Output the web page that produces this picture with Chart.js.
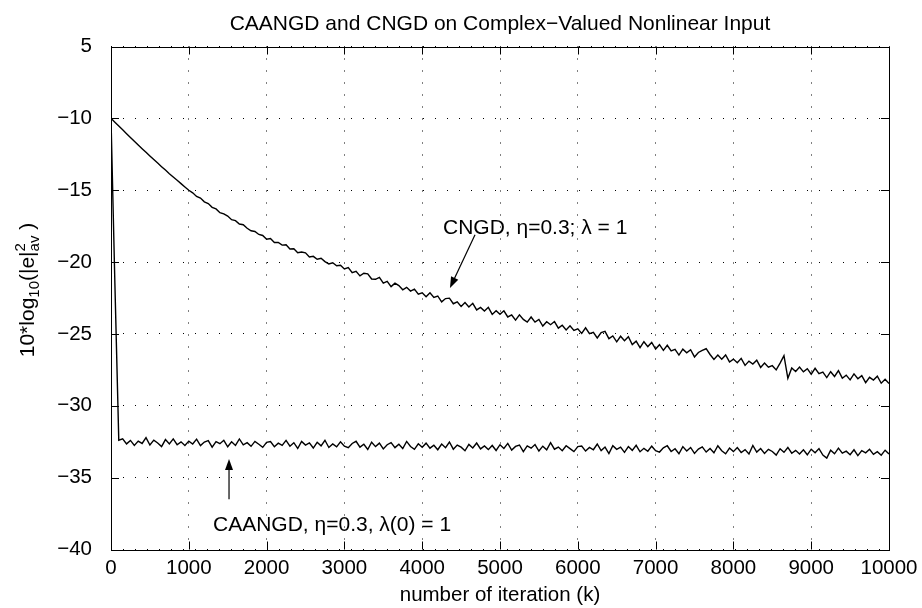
<!DOCTYPE html>
<html><head><meta charset="utf-8">
<script src="https://cdn.jsdelivr.net/npm/chart.js@4.4.1/dist/chart.umd.min.js"></script>
<style>html,body{margin:0;padding:0;background:#fff}#wrap{width:922px;height:608px}</style>
</head><body><div id="wrap"><canvas id="c" width="922" height="608"></canvas></div>
<script>
const iterations = [0,50,100,150,200,250,300,350,400,450,500,550,600,650,700,750,800,850,900,950,
1000,1050,1100,1150,1200,1250,1300,1350,1400,1450,1500,1550,1600,1650,1700,1750,1800,1850,1900,1950,
2000,2050,2100,2150,2200,2250,2300,2350,2400,2450,2500,2550,2600,2650,2700,2750,2800,2850,2900,2950,
3000,3050,3100,3150,3200,3250,3300,3350,3400,3450,3500,3550,3600,3650,3700,3750,3800,3850,3900,3950,
4000,4050,4100,4150,4200,4250,4300,4350,4400,4450,4500,4550,4600,4650,4700,4750,4800,4850,4900,4950,
5000,5050,5100,5150,5200,5250,5300,5350,5400,5450,5500,5550,5600,5650,5700,5750,5800,5850,5900,5950,
6000,6050,6100,6150,6200,6250,6300,6350,6400,6450,6500,6550,6600,6650,6700,6750,6800,6850,6900,6950,
7000,7050,7100,7150,7200,7250,7300,7350,7400,7450,7500,7550,7600,7650,7700,7750,7800,7850,7900,7950,
8000,8050,8100,8150,8200,8250,8300,8350,8400,8450,8500,8550,8600,8650,8700,8750,8800,8850,8900,8950,
9000,9050,9100,9150,9200,9250,9300,9350,9400,9450,9500,9550,9600,9650,9700,9750,9800,9850,9900,9950,
10000];

const cngd = [-10.00,-10.27,-10.54,-10.80,-11.07,-11.33,-11.59,-11.85,-12.11,-12.36,-12.62,-12.87,-13.11,-13.36,-13.60,-13.85,-14.08,-14.31,-14.54,-14.77,
-15.00,-15.18,-15.43,-15.55,-15.81,-15.93,-16.19,-16.30,-16.56,-16.65,-16.80,-17.05,-17.12,-17.35,-17.40,-17.65,-17.82,-17.87,-18.08,-18.15,
-18.41,-18.36,-18.64,-18.64,-18.82,-18.80,-19.09,-19.07,-19.35,-19.30,-19.36,-19.64,-19.60,-19.80,-19.74,-19.97,-20.13,-20.05,-20.26,-20.22,
-20.48,-20.38,-20.74,-20.64,-20.96,-20.78,-20.82,-21.18,-21.20,-21.06,-21.47,-21.34,-21.71,-21.47,-21.64,-21.93,-21.76,-22.02,-21.88,-22.23,
-22.14,-22.42,-22.14,-22.46,-22.36,-22.77,-22.54,-22.51,-22.90,-22.77,-23.09,-22.81,-23.12,-22.87,-23.33,-23.16,-23.41,-23.15,-23.64,-23.38,
-23.63,-23.39,-23.82,-23.68,-24.04,-23.67,-23.99,-24.18,-23.82,-24.18,-23.99,-24.45,-24.15,-24.36,-24.14,-24.60,-24.40,-24.73,-24.44,-24.76,
-24.65,-24.96,-24.57,-24.98,-24.89,-25.28,-24.91,-24.82,-25.33,-25.14,-25.55,-25.16,-25.47,-25.20,-25.74,-25.50,-25.96,-25.54,-25.88,-25.59,
-26.05,-25.75,-26.14,-25.79,-26.18,-26.07,-26.47,-26.06,-26.31,-26.10,-26.60,-26.29,-26.14,-26.03,-26.43,-26.77,-26.47,-26.76,-26.46,-26.95,
-26.75,-27.00,-26.70,-27.19,-26.89,-27.09,-26.83,-27.33,-27.02,-27.32,-27.21,-27.50,-27.03,-26.51,-28.09,-27.37,-27.61,-27.30,-27.64,-27.42,
-27.80,-27.39,-27.77,-27.66,-28.04,-27.63,-27.96,-27.55,-28.08,-27.87,-28.20,-27.78,-28.12,-27.90,-28.39,-28.02,-28.21,-27.94,-28.43,-28.16,
-28.45];

const caangd = [-10.00,-21.50,-32.40,-32.30,-32.65,-32.41,-32.76,-32.46,-32.62,-32.22,-32.73,-32.39,-32.59,-32.84,-32.35,-32.65,-32.30,-32.71,-32.51,-32.76,
-32.46,-32.66,-32.32,-32.77,-32.52,-32.43,-32.88,-32.49,-32.64,-32.40,-32.85,-32.50,-32.76,-32.31,-32.72,-32.57,-32.82,-32.48,-32.68,-32.89,
-32.54,-32.49,-32.85,-32.60,-32.76,-32.41,-32.81,-32.57,-32.97,-32.48,-32.73,-32.58,-32.94,-32.54,-32.79,-32.40,-32.90,-32.65,-32.86,-32.51,
-32.81,-32.92,-32.62,-32.47,-32.88,-32.68,-33.04,-32.54,-32.84,-32.60,-33.00,-32.71,-32.56,-32.91,-32.67,-32.97,-32.48,-32.83,-33.03,-32.64,
-32.89,-32.60,-32.95,-32.75,-33.06,-32.66,-32.92,-32.52,-33.02,-32.73,-32.88,-33.13,-32.69,-32.94,-32.59,-33.00,-32.80,-33.05,-32.76,-33.11,
-32.71,-32.97,-32.62,-33.08,-32.83,-32.73,-33.19,-32.79,-32.95,-32.70,-33.15,-32.81,-33.06,-32.56,-33.02,-32.87,-33.13,-32.78,-32.98,-33.19,
-32.84,-32.80,-33.15,-32.90,-33.06,-32.66,-33.12,-32.87,-33.32,-32.78,-33.03,-32.88,-33.24,-32.84,-33.10,-32.75,-33.20,-32.96,-33.16,-32.81,
-33.12,-33.22,-32.93,-32.78,-33.18,-32.99,-33.34,-32.84,-33.15,-32.90,-33.31,-33.01,-32.86,-33.22,-32.97,-33.27,-32.78,-33.13,-33.34,-32.94,
-33.19,-32.90,-33.25,-33.05,-33.36,-32.76,-33.22,-32.97,-33.32,-33.03,-33.18,-33.43,-32.99,-33.24,-32.90,-33.30,-33.10,-33.36,-33.06,-33.41,
-33.02,-33.27,-32.98,-33.43,-33.64,-33.09,-33.34,-32.95,-33.30,-33.16,-33.41,-33.06,-33.47,-33.12,-33.27,-33.03,-33.38,-33.19,-33.44,-33.09,
-33.35];

const xTickValues = [0,1000,2000,3000,4000,5000,6000,7000,8000,9000,10000];
const xTickLabels = ['0','1000','2000','3000','4000','5000','6000','7000','8000','9000','10000'];
const yTickValues = [-40,-35,-30,-25,-20,-15,-10,-5];
const yTickLabels = ['\u221240','\u221235','\u221230','\u221225','\u221220','\u221215','\u221210','5'];

const titleText = 'CAANGD and CNGD on Complex\u2212Valued Nonlinear Input';
const xTitleText = 'number of iteration (k)';
const cngdLabel = 'CNGD, \u03b7=0.3; \u03bb = 1';
const caangdLabel = 'CAANGD, \u03b7=0.3, \u03bb(0) = 1';

const FONT = "'Liberation Sans', Arial, Helvetica, sans-serif";

const decor = {
  id: 'decor',
  afterDraw(chart) {
    const ctx = chart.ctx, a = chart.chartArea;
    const xs = chart.scales.x, ys = chart.scales.y;
    ctx.save();
    ctx.strokeStyle = '#000';
    ctx.lineWidth = 1;
    ctx.strokeRect(Math.round(a.left)+0.5, Math.round(a.top)+0.5, Math.round(a.right-a.left), Math.round(a.bottom-a.top));
    const tl = 8;
    ctx.beginPath();
    xTickValues.forEach(v => {
      const px = Math.round(xs.getPixelForValue(v)) + 0.5;
      ctx.moveTo(px, a.bottom); ctx.lineTo(px, a.bottom - tl);
      ctx.moveTo(px, a.top); ctx.lineTo(px, a.top + tl);
    });
    yTickValues.forEach(v => {
      const py = Math.round(ys.getPixelForValue(v)) + 0.5;
      ctx.moveTo(a.left, py); ctx.lineTo(a.left + tl, py);
      ctx.moveTo(a.right, py); ctx.lineTo(a.right - tl, py);
    });
    ctx.stroke();

    ctx.fillStyle = '#000';
    ctx.font = '21px ' + FONT;
    ctx.textBaseline = 'middle';
    ctx.textAlign = 'left';
    ctx.fillText(cngdLabel, xs.getPixelForValue(4267), ys.getPixelForValue(-17.63));
    ctx.fillText(caangdLabel, xs.getPixelForValue(1311), ys.getPixelForValue(-38.3));

    function arrow(x1, y1, x2, y2) {
      const X1 = xs.getPixelForValue(x1), Y1 = ys.getPixelForValue(y1);
      const X2 = xs.getPixelForValue(x2), Y2 = ys.getPixelForValue(y2);
      const ang = Math.atan2(Y2 - Y1, X2 - X1);
      const hl = 11, hw = 4;
      ctx.beginPath();
      ctx.lineWidth = 1.2;
      ctx.moveTo(X1, Y1);
      ctx.lineTo(X2 - Math.cos(ang) * hl * 0.8, Y2 - Math.sin(ang) * hl * 0.8);
      ctx.stroke();
      ctx.beginPath();
      ctx.moveTo(X2, Y2);
      ctx.lineTo(X2 - Math.cos(ang) * hl - Math.sin(ang) * hw, Y2 - Math.sin(ang) * hl + Math.cos(ang) * hw);
      ctx.lineTo(X2 - Math.cos(ang) * hl + Math.sin(ang) * hw, Y2 - Math.sin(ang) * hl - Math.cos(ang) * hw);
      ctx.closePath();
      ctx.fill();
    }
    arrow(4679, -18.1, 4357, -21.8);
    arrow(1517, -36.5, 1517, -33.7);

    ctx.translate(34, 290);
    ctx.rotate(-Math.PI / 2);
    ctx.textBaseline = 'alphabetic';
    const big = '21px ' + FONT, small = '15px ' + FONT;
    const parts = [
      {t: '10*log', f: big, dy: 0},
      {t: '10', f: small, dy: 5},
      {t: '(|e|', f: big, dy: 0},
      {t: '2', f: small, dy: -9, stack: true},
      {t: 'av', f: small, dy: 5},
      {t: ' )', f: big, dy: 0}
    ];
    let total = 0;
    parts.forEach(p => { ctx.font = p.f; p.w = ctx.measureText(p.t).width; if (!p.stack) total += p.w; });
    let x = -total / 2;
    parts.forEach(p => {
      ctx.font = p.f;
      ctx.fillText(p.t, x, p.dy);
      if (!p.stack) x += p.w;
    });
    ctx.restore();
  }
};

const chart = new Chart(document.getElementById('c'), {
  type: 'line',
  data: {
    datasets: [
      { label: 'CNGD', data: iterations.map((k, i) => ({x: k, y: cngd[i]})),
        borderColor: '#000', borderWidth: 1.4, pointRadius: 0, tension: 0 },
      { label: 'CAANGD', data: iterations.map((k, i) => ({x: k, y: caangd[i]})),
        borderColor: '#000', borderWidth: 1.4, pointRadius: 0, tension: 0 }
    ]
  },
  options: {
    responsive: false,
    animation: false,
    layout: { padding: { left: 0, right: 33, top: 0, bottom: 0 } },
    plugins: {
      legend: { display: false },
      tooltip: { enabled: false },
      title: { display: true, fullSize: false, text: titleText, color: '#000',
        font: { family: FONT, size: 21, weight: 'normal', lineHeight: 1.2 },
        padding: { top: 12, bottom: 9.3 } }
    },
    scales: {
      x: {
        type: 'linear', min: 0, max: 10000,
        afterBuildTicks: s => { s.ticks = xTickValues.map(v => ({value: v})); },
        ticks: { color: '#000', font: { family: FONT, size: 20.5 }, padding: 7, maxRotation: 0, autoSkip: false,
          callback: (v, i) => xTickLabels[i] },
        grid: { color: '#000', lineWidth: 1, drawTicks: false },
        border: { display: false, dash: [1, 11] },
        title: { display: true, text: xTitleText, color: '#000', font: { family: FONT, size: 20.5 }, padding: { top: 0, bottom: 0 } },
        afterFit: s => { s.height = 58.5; s.paddingLeft = 0; s.paddingRight = 0; }
      },
      y: {
        type: 'linear', min: -40, max: -5,
        afterBuildTicks: s => { s.ticks = yTickValues.map(v => ({value: v})); },
        ticks: { color: '#000', font: { family: FONT, size: 20.5 }, padding: 19, autoSkip: false,
          callback: (v) => { const i = yTickValues.indexOf(v); return i >= 0 ? yTickLabels[i] : ''; } },
        grid: { color: '#000', lineWidth: 1, drawTicks: false },
        border: { display: false, dash: [1, 11] },
        afterFit: s => { s.width = 111; s.paddingTop = 0; s.paddingBottom = 0; }
      }
    }
  },
  plugins: [decor]
});
</script>
</body></html>
